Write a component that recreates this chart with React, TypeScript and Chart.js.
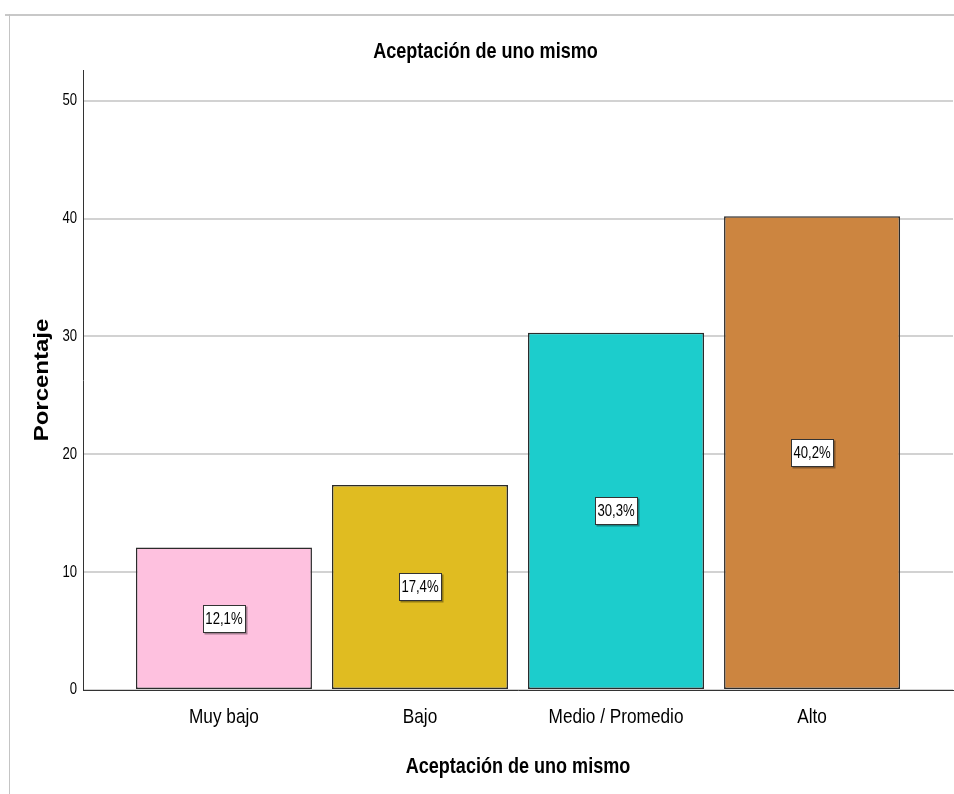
import React, { useEffect, useRef } from "react";
import { Chart, registerables } from "chart.js";

Chart.register(...registerables);

const CATEGORIES = ["Muy bajo", "Bajo", "Medio / Promedio", "Alto"];
const PERCENTS = [12.1, 17.4, 30.3, 40.2];
const VALUE_LABELS = ["12,1%", "17,4%", "30,3%", "40,2%"];
const BAR_COLORS = ["#FEC1DF", "#E0BC21", "#1CCDCC", "#CC8540"];
const Y_TICKS = [0, 10, 20, 30, 40, 50];
const CHART_TITLE = "Aceptación de uno mismo";
const X_TITLE = "Aceptación de uno mismo";
const Y_TITLE = "Porcentaje";

// "Liberation Sans" text is drawn horizontally condensed (Arial Narrow look);
// "Arial" (y title) is drawn slightly stretched along its direction.
const NARROW = '"Liberation Sans", sans-serif';
const WIDE = 'Arial, "Liberation Sans", sans-serif';
const NARROW_SCALE = 0.82;
const WIDE_SCALE = 1.2;

function patchContext(ctx: any) {
  if (ctx.__patched) return;
  ctx.__patched = true;
  const orig = ctx.fillText;
  ctx.fillText = function (text: string, x: number, y: number, maxWidth?: number) {
    const f: string = this.font || "";
    let sx = 1;
    if (f.includes("Arial")) sx = WIDE_SCALE;
    else if (f.includes("Liberation Sans")) sx = NARROW_SCALE;
    if (sx === 1) {
      return maxWidth === undefined ? orig.call(this, text, x, y) : orig.call(this, text, x, y, maxWidth);
    }
    this.save();
    this.translate(x, y);
    this.scale(sx, 1);
    if (maxWidth === undefined) orig.call(this, text, 0, 0);
    else orig.call(this, text, 0, 0, maxWidth / sx);
    this.restore();
  };
}

const valueBoxPlugin = {
  id: "valueBoxes",
  afterDatasetsDraw(chart: any) {
    const ctx = chart.ctx;
    const meta = chart.getDatasetMeta(0);
    ctx.save();
    ctx.font = `16px ${NARROW}`;
    ctx.textAlign = "center";
    ctx.textBaseline = "middle";
    meta.data.forEach((bar: any, i: number) => {
      const { x, y, base } = bar.getProps(["x", "y", "base"], true);
      const cy = (y + base) / 2;
      const text = VALUE_LABELS[i];
      const w = Math.round(ctx.measureText(text).width * NARROW_SCALE + 5);
      const h = 27;
      const left = Math.round(x - w / 2) + 0.5;
      const top = Math.round(cy - h / 2) + 0.5;
      ctx.fillStyle = "rgba(0,0,0,0.35)";
      ctx.fillRect(left + 1, top + 1, w + 1, h + 1);
      ctx.fillStyle = "#ffffff";
      ctx.fillRect(left, top, w, h);
      ctx.strokeStyle = "#333333";
      ctx.lineWidth = 1;
      ctx.strokeRect(left, top, w, h);
      ctx.fillStyle = "#000000";
      ctx.fillText(text, x, cy + 1);
    });
    ctx.restore();
  },
};

export default function App() {
  const canvasRef = useRef<HTMLCanvasElement | null>(null);

  useEffect(() => {
    const canvas = canvasRef.current;
    if (!canvas) return;
    const ctx2d = canvas.getContext("2d");
    patchContext(ctx2d);
    const chart = new Chart(canvas, {
      type: "bar",
      data: {
        datasets: [
          {
            data: PERCENTS.map((v, i) => ({ x: i, y: v })),
            backgroundColor: BAR_COLORS,
            borderColor: "#2b2b2b",
            borderWidth: 1.5,
            borderSkipped: false,
            categoryPercentage: 1,
            barPercentage: 176 / 196,
          },
        ],
      },
      options: {
        animation: false,
        responsive: false,
        devicePixelRatio: 1,
        layout: { padding: { left: 18, right: 1, top: 0, bottom: 0 } },
        plugins: {
          legend: { display: false },
          tooltip: { enabled: false },
          title: {
            display: true,
            text: CHART_TITLE,
            color: "#000000",
            font: { family: NARROW, size: 22, weight: "bold" },
            padding: { top: 39, bottom: 4.6 },
          },
        },
        scales: {
          x: {
            type: "linear",
            offset: false,
            min: -0.719,
            max: 3.719,
            afterBuildTicks: (s: any) => {
              s.ticks = CATEGORIES.map((_, i) => ({ value: i }));
            },
            afterFit: (s: any) => {
              s.height = 104;
            },
            ticks: {
              callback: (v: any) => CATEGORIES[v as number],
              color: "#000000",
              font: { family: NARROW, size: 21 },
              padding: 15,
              autoSkip: false,
              maxRotation: 0,
              includeBounds: false,
            },
            grid: { display: false, drawTicks: false },
            border: { display: true, color: "#333333", width: 1 },
            title: {
              display: true,
              text: X_TITLE,
              color: "#000000",
              font: { family: NARROW, size: 22, weight: "bold" },
              padding: { top: 0, bottom: 14 },
            },
          },
          y: {
            min: 0,
            max: 52.6,
            afterBuildTicks: (s: any) => {
              s.ticks = Y_TICKS.map((v) => ({ value: v }));
            },
            afterFit: (s: any) => {
              s.width = 65;
            },
            ticks: {
              color: "#000000",
              font: { family: NARROW, size: 16 },
              padding: 6,
              includeBounds: false,
            },
            grid: { color: "#d2d2d2", lineWidth: 2, drawTicks: false },
            border: { display: true, color: "#333333", width: 1 },
            title: {
              display: true,
              text: Y_TITLE,
              color: "#000000",
              font: { family: WIDE, size: 20, weight: "bold" },
              padding: { top: 12, bottom: 0 },
            },
          },
        },
      } as any,
      plugins: [valueBoxPlugin],
    });
    return () => chart.destroy();
  }, []);

  return (
    <div style={{ position: "absolute", left: 0, top: 0, width: 954, height: 794, background: "#ffffff", overflow: "hidden" }}>
      <div style={{ position: "absolute", left: 5, top: 14, width: 949, height: 0, borderTop: "2px solid #c8c8c8" }} />
      <div style={{ position: "absolute", left: 9, top: 14, width: 0, height: 780, borderLeft: "1px solid #c4c4c4" }} />
      <canvas ref={canvasRef} width={954} height={794} style={{ position: "absolute", left: 0, top: 0, width: 954, height: 794 }} />
    </div>
  );
}
